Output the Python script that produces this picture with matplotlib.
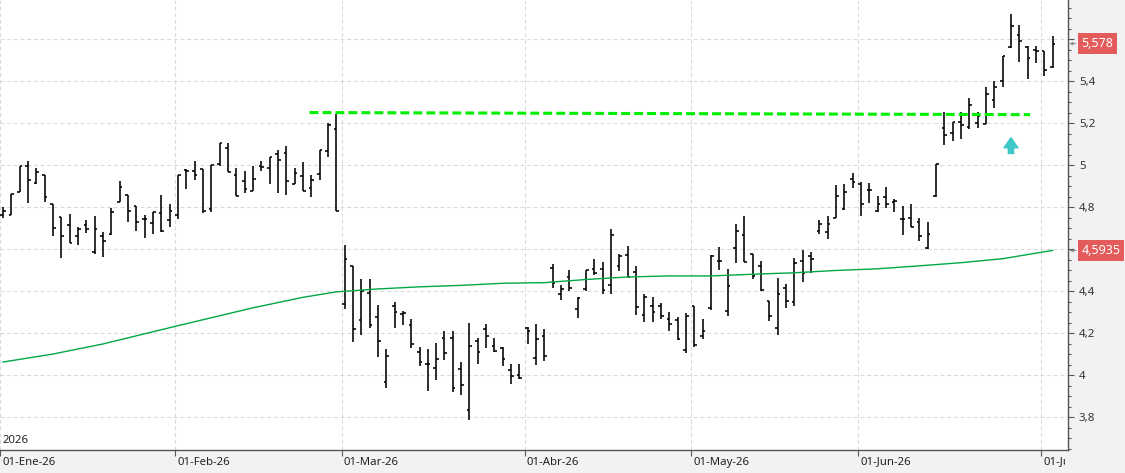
import matplotlib

matplotlib.use("Agg")
import matplotlib.pyplot as plt
import numpy as np
import pandas as pd
from matplotlib.ticker import FixedLocator, FuncFormatter, MultipleLocator
from matplotlib.transforms import Bbox, TransformedBbox, offset_copy

plt.rcParams["font.family"] = ["Noto Sans", "DejaVu Sans"]

# trading calendar (BME holidays)
START, END = "2026-01-02", "2026-07-02"
HOLIDAYS = ["2026-01-01", "2026-04-03", "2026-04-06", "2026-05-01"]
MONTH_LABELS = ["01-Ene-26", "01-Feb-26", "01-Mar-26", "01-Abr-26",
                "01-May-26", "01-Jun-26", "01-Jul-26"]
YEAR_LABEL = "2026"

# daily OHLC
OPEN = [4.76, 4.763, 4.874, 4.995, 4.913, 4.953, 4.813, 4.752, 4.714, 4.663,
        4.714, 4.584, 4.663, 4.673, 4.823, 4.858, 4.806, 4.742, 4.723, 4.771,
        4.736, 4.76, 4.975, 4.972, 4.983, 4.789, 5.006, 5.081, 4.953, 4.922,
        4.877, 4.996, 4.988, 5.053, 5.055, 4.91, 4.949, 4.892, 4.958, 5.069,
        5.172, 4.34, 4.521, 4.261, 4.389, 4.278, 3.966, 4.33, 4.292, 4.237,
        4.112, 4.051, 4.032, 4.174, 4.174, 4.029, 3.835, 4.16, 4.221, 4.136,
        4.128, 4.022, 4.0, 4.224, 4.083, 4.186, 4.51, 4.387, 4.466, 4.313,
        4.408, 4.506, 4.506, 4.43, 4.521, 4.573, 4.493, 4.288, 4.329, 4.329,
        4.266, 4.263, 4.118, 4.331, 4.186, 4.321, 4.543, 4.305, 4.606, 4.668,
        4.575, 4.52, 4.353, 4.224, 4.413, 4.346, 4.543, 4.567, 4.688, 4.68,
        4.748, 4.79, 4.932, 4.909, 4.882, 4.783, 4.848, 4.824, 4.743, 4.748,
        4.727, 4.605, 4.851, 5.176, 5.152, 5.203, 5.181, 5.2, 5.195, 5.311,
        5.402, 5.56, 5.621, 5.562, 5.546, 5.544, 5.465]
HIGH = [4.80, 4.861, 4.995, 5.019, 4.984, 4.953, 4.813, 4.752, 4.766, 4.704,
        4.736, 4.758, 4.682, 4.795, 4.924, 4.858, 4.806, 4.76, 4.777, 4.856,
        4.813, 4.953, 4.982, 5.017, 4.983, 4.998, 5.105, 5.105, 4.987, 4.974,
        4.994, 5.021, 5.04, 5.074, 5.092, 4.987, 5.013, 4.953, 5.07, 5.198,
        5.243, 4.62, 4.521, 4.455, 4.455, 4.332, 4.123, 4.35, 4.306, 4.265,
        4.134, 4.123, 4.152, 4.209, 4.209, 4.06, 4.25, 4.176, 4.242, 4.176,
        4.133, 4.052, 4.052, 4.231, 4.243, 4.219, 4.531, 4.43, 4.5, 4.373,
        4.502, 4.554, 4.537, 4.694, 4.578, 4.613, 4.521, 4.384, 4.373, 4.345,
        4.3, 4.274, 4.294, 4.331, 4.268, 4.57, 4.608, 4.504, 4.721, 4.759,
        4.578, 4.543, 4.353, 4.46, 4.433, 4.556, 4.595, 4.587, 4.74, 4.756,
        4.905, 4.909, 4.961, 4.917, 4.913, 4.854, 4.895, 4.838, 4.806, 4.816,
        4.748, 4.729, 5.005, 5.252, 5.203, 5.251, 5.319, 5.252, 5.371, 5.402,
        5.517, 5.721, 5.668, 5.565, 5.565, 5.544, 5.616]
LOW = [4.75, 4.763, 4.874, 4.818, 4.908, 4.823, 4.66, 4.557, 4.628, 4.617,
       4.676, 4.576, 4.562, 4.668, 4.823, 4.727, 4.684, 4.652, 4.671, 4.679,
       4.703, 4.742, 4.884, 4.931, 4.77, 4.776, 4.995, 4.968, 4.852, 4.868,
       4.877, 4.971, 4.909, 4.865, 4.855, 4.909, 4.877, 4.847, 4.928, 5.039,
       4.779, 4.313, 4.158, 4.19, 4.224, 4.087, 3.94, 4.223, 4.237, 4.127,
       4.044, 3.925, 3.978, 4.073, 3.921, 3.907, 3.784, 4.052, 4.13, 4.108,
       4.044, 3.959, 3.981, 4.15, 4.05, 4.068, 4.413, 4.357, 4.4, 4.272,
       4.398, 4.476, 4.386, 4.386, 4.494, 4.465, 4.285, 4.254, 4.254, 4.269,
       4.211, 4.167, 4.104, 4.132, 4.173, 4.312, 4.501, 4.28, 4.532, 4.539,
       4.457, 4.402, 4.255, 4.189, 4.321, 4.327, 4.444, 4.488, 4.672, 4.649,
       4.748, 4.787, 4.89, 4.756, 4.819, 4.776, 4.795, 4.776, 4.665, 4.703,
       4.637, 4.6, 4.848, 5.094, 5.113, 5.124, 5.171, 5.176, 5.195, 5.271,
       5.371, 5.557, 5.49, 5.411, 5.486, 5.422, 5.462]
CLOSE = [4.78, 4.861, 4.995, 4.929, 4.968, 4.847, 4.70, 4.66, 4.628, 4.695,
         4.695, 4.695, 4.64, 4.776, 4.894, 4.782, 4.73, 4.742, 4.777, 4.687,
         4.782, 4.953, 4.972, 4.953, 4.781, 4.998, 5.105, 4.968, 4.852, 4.884,
         4.934, 4.99, 5.04, 5.025, 4.922, 4.963, 4.877, 4.931, 5.07, 5.19,
         4.779, 4.553, 4.218, 4.398, 4.24, 4.164, 4.093, 4.302, 4.297, 4.15,
         4.06, 4.051, 4.076, 4.104, 3.937, 3.953, 4.136, 4.108, 4.187, 4.116,
         4.076, 3.996, 3.985, 4.209, 4.172, 4.09, 4.437, 4.408, 4.416, 4.368,
         4.498, 4.487, 4.405, 4.665, 4.565, 4.466, 4.326, 4.373, 4.302, 4.279,
         4.241, 4.172, 4.279, 4.145, 4.209, 4.567, 4.543, 4.424, 4.688, 4.54,
         4.472, 4.403, 4.282, 4.384, 4.351, 4.535, 4.485, 4.554, 4.72, 4.72,
         4.854, 4.871, 4.917, 4.814, 4.882, 4.816, 4.816, 4.827, 4.743, 4.703,
         4.664, 4.671, 5.005, 5.143, 5.203, 5.191, 5.286, 5.235, 5.34, 5.371,
         5.517, 5.663, 5.592, 5.51, 5.544, 5.452, 5.578]

# moving average read at sample bars
MA_IDX = [0, 6, 12, 21, 30, 36, 40, 45, 50, 55, 60, 65, 70, 75, 80, 85,
          90, 95, 100, 105, 110, 115, 120, 126]
MA_VAL = [4.062, 4.10, 4.148, 4.235, 4.32, 4.37, 4.396, 4.41, 4.42, 4.427,
          4.437, 4.44, 4.455, 4.467, 4.472, 4.472, 4.48, 4.487, 4.498, 4.506,
          4.52, 4.535, 4.554, 4.5935]

# resistance line and buy signal
RES_IDX = [36.8, 123.3]
RES_VAL = [5.25, 5.24]
SIGNAL_IDX = 121
SIGNAL_RANGE = [5.055, 5.13]

W, H = 1125, 473
PLOT_W, PLOT_H = 1068, 450
GRID = dict(color="#d9d9d9", lw=0.75, ls=(0, (3.8, 2.6)))
TAGS = (CLOSE[-1], MA_VAL[-1])


def fmt_price(v: float) -> str:
    s = f"{v:.4f}".rstrip("0").rstrip(".")
    return s.replace(".", ",")


def tick_label(v: float, _pos) -> str:
    # the red value tags cover the axis labels right under them
    if any(abs(v - t) < 0.03 for t in TAGS):
        return ""
    return fmt_price(round(v, 2))


dates = pd.bdate_range(START, END, freq="C", holidays=HOLIDAYS)
idx = np.arange(len(dates))
first_days = pd.Series(idx, index=dates).groupby([dates.year, dates.month]).first()
tick_pos = first_days.to_numpy() - 0.35

fig = plt.figure(figsize=(W / 100, H / 100), dpi=100, facecolor="#f1f2f4")
ax = fig.add_axes([0, (H - PLOT_H) / H, PLOT_W / W, PLOT_H / H])
ax.set_facecolor("white")

ax.set_xlim(-0.36, 127.85)
ax.set_ylim(3.643, 5.786)

ax.xaxis.set_major_locator(FixedLocator(tick_pos))
ax.yaxis.set_major_locator(MultipleLocator(0.2))
ax.yaxis.set_minor_locator(MultipleLocator(0.05))
ax.yaxis.set_major_formatter(FuncFormatter(tick_label))
ax.yaxis.tick_right()
ax.tick_params(axis="x", which="both", direction="out", length=4.3, width=0.8,
               color="#555555", labelbottom=False, top=False)
ax.tick_params(axis="y", which="major", direction="out", length=4.3, width=0.8,
               color="#555555", labelsize=8.3, labelcolor="#333333", pad=3.6)
ax.tick_params(axis="y", which="minor", direction="out", length=2.2, width=0.8,
               color="#555555")
for side in ("left", "top"):
    ax.spines[side].set_visible(False)
for side in ("right", "bottom"):
    ax.spines[side].set_color("#555555")
    ax.spines[side].set_linewidth(1)

ax.set_axisbelow(True)
ax.grid(True, axis="both", which="major", **GRID)

# OHLC bars
ax.vlines(idx, LOW, HIGH, color="black", lw=1.15)
ax.hlines(OPEN, idx - 0.32, idx, color="black", lw=1.15)
ax.hlines(CLOSE, idx, idx + 0.32, color="black", lw=1.15)

ax.plot(MA_IDX, MA_VAL, color="#00a845", lw=1.0, zorder=3)
ax.plot(RES_IDX, RES_VAL, color="#00ee00", lw=2.2, ls=(0, (2.9, 1.35)),
        solid_capstyle="butt", dash_capstyle="butt", zorder=4)
ax.annotate("", xy=(SIGNAL_IDX, SIGNAL_RANGE[1]), xytext=(SIGNAL_IDX, SIGNAL_RANGE[0]),
            arrowprops=dict(arrowstyle="simple,head_width=1.0,head_length=0.72,tail_width=0.38",
                            color="#3ec8c8", shrinkA=0, shrinkB=0, mutation_scale=10))

# last-value tags on the price axis
for val in TAGS:
    ax.text(1.0125, val, fmt_price(val), transform=ax.get_yaxis_transform(),
            ha="left", va="center", color="white", fontsize=9, zorder=6,
            clip_on=False,
            bbox=dict(boxstyle="square,pad=0.3", fc="#e35b5b", ec="none"))
    ax.annotate("", xy=(1.0015, val), xytext=(1.0075, val),
                xycoords=ax.get_yaxis_transform(), annotation_clip=False,
                arrowprops=dict(arrowstyle="->", color="#777777", lw=0.6,
                                shrinkA=0, shrinkB=0, mutation_scale=5))

# date labels, clipped at the price axis
clip = TransformedBbox(Bbox.from_extents(0, 0, (PLOT_W - 3) / W, 1), fig.transFigure)
label_tr = offset_copy(ax.get_xaxis_transform(), fig=fig, x=2, y=-12, units="dots")
for pos, lab in zip(tick_pos, MONTH_LABELS):
    fig.text(pos, 0, lab, transform=label_tr, ha="left", va="center",
             fontsize=8.2, color="#222222", clip_on=True, clip_box=clip)
ax.text(0.002, 0.022, YEAR_LABEL, transform=ax.transAxes, ha="left", va="center",
        fontsize=8.2, color="#222222")

fig.savefig("out.png", dpi=100, facecolor=fig.get_facecolor())
